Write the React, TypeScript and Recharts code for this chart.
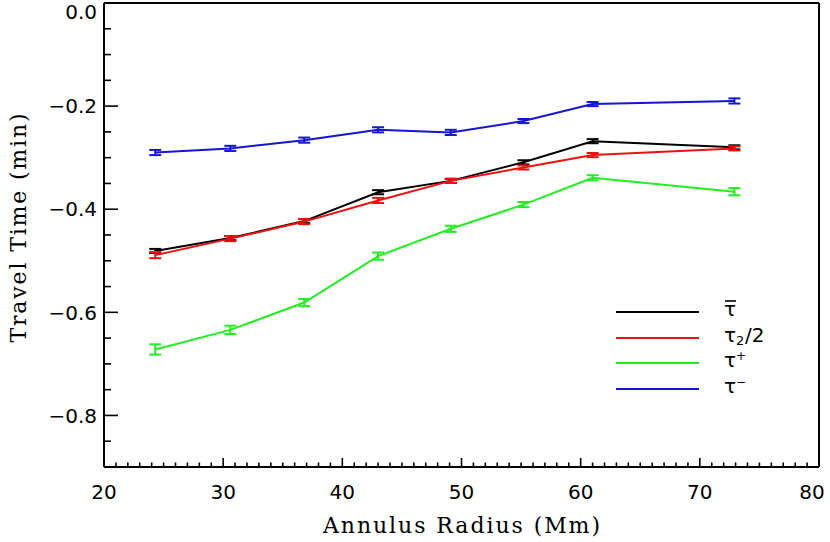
import React from "react";
import {
  LineChart,
  Line,
  XAxis,
  YAxis,
  ErrorBar,
  Legend,
} from "recharts";

// annulus radius (Mm)
const radius = [24.3, 30.6, 36.8, 43.0, 49.1, 55.2, 61.0, 72.9];

// travel times (min)
const tauMean = [-0.481, -0.456, -0.423, -0.367, -0.345, -0.309, -0.268, -0.28];
const tauHalf = [-0.489, -0.457, -0.424, -0.383, -0.345, -0.319, -0.295, -0.282];
const tauPlus = [-0.672, -0.634, -0.581, -0.491, -0.438, -0.391, -0.339, -0.366];
const tauMinus = [-0.29, -0.282, -0.266, -0.246, -0.251, -0.229, -0.196, -0.19];

// error bar half-heights
const errMean = [0.004, 0.004, 0.004, 0.004, 0.004, 0.004, 0.004, 0.004];
const errHalf = [0.006, 0.005, 0.005, 0.005, 0.004, 0.004, 0.004, 0.004];
const errPlus = [0.01, 0.008, 0.007, 0.007, 0.006, 0.005, 0.005, 0.007];
const errMinus = [0.005, 0.005, 0.005, 0.005, 0.005, 0.004, 0.004, 0.005];

// ticks
const xMajor = [20, 30, 40, 50, 60, 70, 80];
const yMajor = [0, -0.2, -0.4, -0.6, -0.8];
const xTicks = Array.from({ length: 61 }, (_, i) => 20 + i);
const yTicks = Array.from({ length: 19 }, (_, i) => -i * 0.05);

// legend order as in the plot
const legendOrder = ["mean", "half", "plus", "minus"];

const data = radius.map((r, i) => ({
  r,
  mean: tauMean[i],
  half: tauHalf[i],
  plus: tauPlus[i],
  minus: tauMinus[i],
  meanErr: errMean[i],
  halfErr: errHalf[i],
  plusErr: errPlus[i],
  minusErr: errMinus[i],
}));

const COLORS: Record<string, string> = {
  mean: "#000000",
  half: "#ee1111",
  plus: "#22ee22",
  minus: "#1515d5",
};

const tickFont = "'DejaVu Sans', sans-serif";
const titleFont = "'DejaVu Serif', serif";

const isXMajor = (v: number) => xMajor.some((m) => Math.abs(m - v) < 1e-6);
const isYMajor = (v: number) => yMajor.some((m) => Math.abs(m - v) < 1e-6);
const fmtY = (v: number) =>
  (Math.abs(v) < 1e-9 ? "0.0" : v.toFixed(1)).replace("-", "\u2212");

function BottomTick(props: any) {
  const { x, y, payload } = props;
  const major = isXMajor(payload.value);
  return (
    <g>
      <line x1={x} y1={y} x2={x} y2={y - (major ? 9 : 4.5)} stroke="#000" strokeWidth={1.6} />
      {major && (
        <text
          x={Math.min(x, 812)}
          y={y + 32}
          textAnchor="middle"
          fontSize={20}
          fontFamily={tickFont}
          fill="#000"
        >
          {payload.value}
        </text>
      )}
    </g>
  );
}

function TopTick(props: any) {
  const { x, y, payload } = props;
  const major = isXMajor(payload.value);
  return <line x1={x} y1={y} x2={x} y2={y + (major ? 9 : 4.5)} stroke="#000" strokeWidth={1.6} />;
}

function LeftTick(props: any) {
  const { x, y, payload } = props;
  const major = isYMajor(payload.value);
  return (
    <g>
      <line x1={x} y1={y} x2={x + (major ? 14 : 7)} y2={y} stroke="#000" strokeWidth={1.6} />
      {major && (
        <text
          x={x - 7}
          y={Math.max(y, 12)}
          dy="0.36em"
          textAnchor="end"
          fontSize={20}
          fontFamily={tickFont}
          fill="#000"
        >
          {fmtY(payload.value)}
        </text>
      )}
    </g>
  );
}

function RightTick(props: any) {
  const { x, y, payload } = props;
  const major = isYMajor(payload.value);
  return <line x1={x} y1={y} x2={x - (major ? 14 : 7)} y2={y} stroke="#000" strokeWidth={1.6} />;
}

function XTitle(props: any) {
  const { viewBox } = props;
  return (
    <text
      x={viewBox.x + viewBox.width / 2}
      y={viewBox.y + 66}
      textAnchor="middle"
      fontSize={22}
      fontFamily={titleFont}
      textLength={277}
      lengthAdjust="spacing"
      fill="#000"
    >
      Annulus Radius (Mm)
    </text>
  );
}

function YTitle(props: any) {
  const { viewBox } = props;
  const cx = viewBox.x - 18;
  const cy = viewBox.y + viewBox.height / 2 - 7;
  return (
    <text
      x={cx}
      y={cy}
      transform={`rotate(-90 ${cx} ${cy})`}
      textAnchor="middle"
      fontSize={22}
      fontFamily={titleFont}
      textLength={229}
      lengthAdjust="spacing"
      fill="#000"
    >
      Travel Time (min)
    </text>
  );
}

function LegendLabel({ k, x, y }: { k: string; x: number; y: number }) {
  const common = { fontSize: 20, fontFamily: tickFont, fill: "#000" };
  if (k === "mean") {
    return (
      <g>
        <text x={x} y={y} {...common}>τ</text>
        <line x1={x + 1} y1={y - 15} x2={x + 12} y2={y - 15} stroke="#000" strokeWidth={1.6} />
      </g>
    );
  }
  if (k === "half") {
    return (
      <g>
        <text x={x} y={y} {...common}>τ</text>
        <text x={x + 12} y={y + 3} fontSize={13} fontFamily={tickFont} fill="#000">2</text>
        <text x={x + 21} y={y} {...common}>/2</text>
      </g>
    );
  }
  return (
    <g>
      <text x={x} y={y} {...common}>τ</text>
      <text x={x + 12} y={y - 7} fontSize={12} fontFamily={tickFont} fill="#000">
        {k === "plus" ? "+" : "\u2212"}
      </text>
    </g>
  );
}

function TauLegend(props: any) {
  const payload: any[] = props.payload || [];
  const rows = [17, 43, 68, 94];
  const entries = legendOrder
    .map((k) => payload.find((p) => p.dataKey === k))
    .filter(Boolean);
  return (
    <svg width={200} height={110}>
      {entries.map((p: any, i: number) => (
        <g key={p.dataKey}>
          <line x1={16} y1={rows[i]} x2={99} y2={rows[i]} stroke={p.color} strokeWidth={2} />
          <LegendLabel k={p.dataKey} x={124} y={rows[i] + 4} />
        </g>
      ))}
    </svg>
  );
}

export default function App() {
  return (
    <div style={{ position: "absolute", left: 0, top: 0, width: 830, height: 542, background: "#fff" }}>
      <LineChart
        width={830}
        height={542}
        data={data}
        margin={{ top: 2, right: 10, bottom: 0, left: 44 }}
      >
        <XAxis
          xAxisId="bottom"
          dataKey="r"
          type="number"
          domain={[20, 80]}
          ticks={xTicks}
          interval={0}
          height={75}
          tickSize={0}
          tickMargin={0}
          tickLine={false}
          axisLine={{ stroke: "#000", strokeWidth: 2 }}
          tick={<BottomTick />}
          label={<XTitle />}
        />
        <XAxis
          xAxisId="top"
          orientation="top"
          type="number"
          domain={[20, 80]}
          ticks={xTicks}
          interval={0}
          height={1}
          tickSize={0}
          tickMargin={0}
          tickLine={false}
          axisLine={{ stroke: "#000", strokeWidth: 2 }}
          tick={<TopTick />}
        />
        <YAxis
          yAxisId="left"
          type="number"
          domain={[-0.9, 0]}
          ticks={yTicks}
          interval={0}
          width={60}
          tickSize={0}
          tickMargin={0}
          tickLine={false}
          axisLine={{ stroke: "#000", strokeWidth: 2 }}
          tick={<LeftTick />}
          label={<YTitle />}
        />
        <YAxis
          yAxisId="right"
          orientation="right"
          type="number"
          domain={[-0.9, 0]}
          ticks={yTicks}
          interval={0}
          width={1}
          tickSize={0}
          tickMargin={0}
          tickLine={false}
          axisLine={{ stroke: "#000", strokeWidth: 2 }}
          tick={<RightTick />}
        />
        <Legend
          layout="vertical"
          align="center"
          verticalAlign="middle"
          content={<TauLegend />}
          wrapperStyle={{ left: 600, top: 295, width: 200, height: 110 }}
        />
        <Line
          xAxisId="bottom"
          yAxisId="left"
          dataKey="mean"
          name="mean"
          stroke={COLORS.mean}
          strokeWidth={2}
          dot={false}
          isAnimationActive={false}
        >
          <ErrorBar dataKey="meanErr" direction="y" width={6} strokeWidth={2} stroke={COLORS.mean} isAnimationActive={false} />
        </Line>
        <Line
          xAxisId="bottom"
          yAxisId="left"
          dataKey="half"
          name="half"
          stroke={COLORS.half}
          strokeWidth={2}
          dot={false}
          isAnimationActive={false}
        >
          <ErrorBar dataKey="halfErr" direction="y" width={6} strokeWidth={2} stroke={COLORS.half} isAnimationActive={false} />
        </Line>
        <Line
          xAxisId="bottom"
          yAxisId="left"
          dataKey="plus"
          name="plus"
          stroke={COLORS.plus}
          strokeWidth={2}
          dot={false}
          isAnimationActive={false}
        >
          <ErrorBar dataKey="plusErr" direction="y" width={6} strokeWidth={2} stroke={COLORS.plus} isAnimationActive={false} />
        </Line>
        <Line
          xAxisId="bottom"
          yAxisId="left"
          dataKey="minus"
          name="minus"
          stroke={COLORS.minus}
          strokeWidth={2}
          dot={false}
          isAnimationActive={false}
        >
          <ErrorBar dataKey="minusErr" direction="y" width={6} strokeWidth={2} stroke={COLORS.minus} isAnimationActive={false} />
        </Line>
      </LineChart>
    </div>
  );
}
